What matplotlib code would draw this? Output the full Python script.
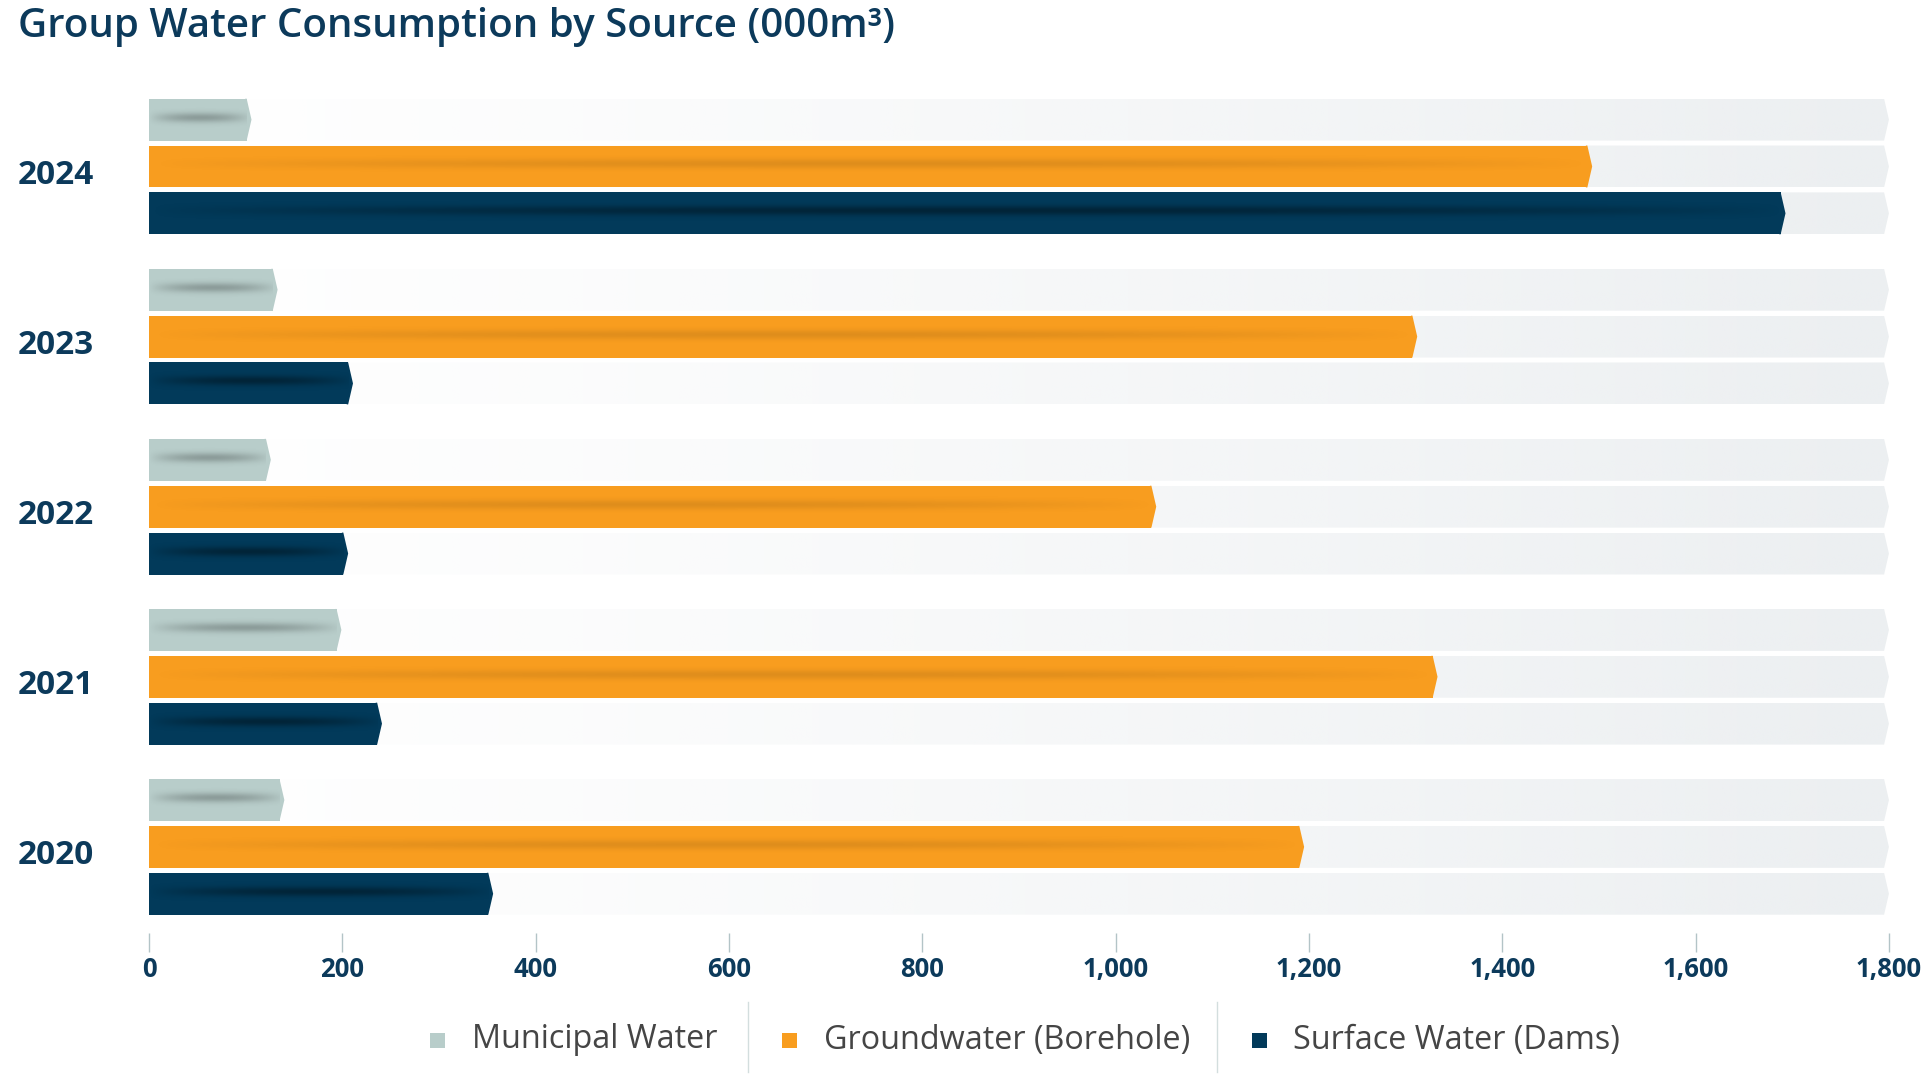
import numpy as np
import matplotlib
matplotlib.use("Agg")
import matplotlib.pyplot as plt
import matplotlib.transforms as mtransforms
from matplotlib.patches import Polygon, Rectangle
from matplotlib.lines import Line2D

# data (000 m3)
years = ['2020', '2021', '2022', '2023', '2024']
municipal = [140, 199, 126, 133, 106]
groundwater = [1195, 1333, 1042, 1312, 1493]
surface = [356, 241, 206, 211, 1693]
series_names = ['Municipal Water', 'Groundwater (Borehole)', 'Surface Water (Dams)']
xticks = [0, 200, 400, 600, 800, 1000, 1200, 1400, 1600, 1800]

NAVY = '#0c3a5b'
colors = ['#b8cdca', '#f89d1f', '#023a5a']
shade = [0.24, 0.10, 0.38]  # strength of the dark inner stripe

plt.rcParams['font.family'] = ['Open Sans', 'DejaVu Sans']

W, H_PX = 1933, 1081
fig = plt.figure(figsize=(W / 100, H_PX / 100), dpi=100)
ax = fig.add_axes([0.0771, 0.1369, 0.9001, 0.7798])

GROUP = 3.63   # distance between year groups (in bar slots)
BH = 0.895     # bar height
TIP = 5        # chevron depth in data units
XMAX = 1800

centers = np.arange(len(years)) * GROUP
offsets = [1, 0, -1]
series = [municipal, groundwater, surface]


def chevron(x1, y, h):
    return [(0, y - h / 2), (x1 - TIP, y - h / 2), (x1, y),
            (x1 - TIP, y + h / 2), (0, y + h / 2)]


# background tracks with a white -> grey gradient
track_rgb = np.array([236, 239, 241]) / 255
grad = np.zeros((1, 256, 4))
grad[..., :3] = track_rgb
grad[..., 3] = np.linspace(0, 1, 256) ** 1.2
for c in centers:
    for off in offsets:
        y = c + off
        tr = Polygon(chevron(XMAX, y, BH), closed=True, fc='none', ec='none', zorder=1)
        ax.add_patch(tr)
        im = ax.imshow(grad, extent=(0, XMAX, y - BH / 2, y + BH / 2), aspect='auto',
                       interpolation='bilinear', zorder=1)
        im.set_clip_path(tr)

# value bars
yy = np.linspace(0, 1, 40)[:, None]
xx = np.linspace(0, 1, 200)[None, :]
for vals, off, col, s in zip(series, offsets, colors, shade):
    ys = centers + off
    bars = ax.barh(ys, [v - TIP for v in vals], height=BH, color=col, lw=0, zorder=2)
    for bar, v, y in zip(bars, vals, ys):
        ax.fill([v - TIP - 1.5, v - TIP, v, v - TIP, v - TIP - 1.5],
                [y - BH / 2, y - BH / 2, y, y + BH / 2, y + BH / 2],
                color=col, lw=0, zorder=2)
        stripe = np.zeros((40, 200, 4))
        stripe[..., 3] = s * np.exp(-((yy - 0.56) / 0.12) ** 2) * np.sin(np.pi * xx) ** 0.8
        im = ax.imshow(stripe, extent=(0, v, y - BH / 2, y + BH / 2), origin='lower',
                       aspect='auto', interpolation='bilinear', zorder=3)
        im.set_clip_path(bar)

ax.set_xlim(0, XMAX)
ax.set_ylim(-1.838, 16.151)
for sp in ax.spines.values():
    sp.set_visible(False)

ax.set_xticks(xticks, [f'{v:,}' for v in xticks])
ax.tick_params(axis='x', length=13.7, width=1, color='#b3c4c7', pad=3,
               labelsize=18.5, labelcolor=NAVY)
ax.set_yticks(centers, years)
ax.tick_params(axis='y', length=0, pad=67.3, labelsize=24, labelcolor=NAVY)
shift = mtransforms.ScaledTranslation(0, -0.05, fig.dpi_scale_trans)
for lab in ax.get_yticklabels():
    lab.set_ha('center')
    lab.set_fontweight('bold')
    lab.set_transform(lab.get_transform() + shift)
for lab in ax.get_xticklabels():
    lab.set_fontweight('bold')

fig.text(18 / W, 1 - 27 / H_PX, 'Group Water Consumption by Source (000m³)',
         fontsize=29, color=NAVY, fontweight='semibold', va='center', ha='left')

# legend, laid out by hand with separators
leg_y = 1 - 1040 / H_PX
sq_x = [438, 790, 1259]
for name, col, sx in zip(series_names, colors, sq_x):
    fig.add_artist(Rectangle(((sx - 7.5) / W, leg_y - 7.5 / H_PX), 15 / W, 15 / H_PX,
                             transform=fig.transFigure, color=col, lw=0))
    fig.text((sx + 34) / W, leg_y, name, fontsize=23.3, color='#454545', va='center', ha='left')
for sep in [748, 1217]:
    fig.add_artist(Line2D([sep / W, sep / W], [1 - 1002 / H_PX, 1 - 1072 / H_PX],
                          transform=fig.transFigure, color='#d3dede', lw=1))

fig.savefig('out.png', dpi=100)
